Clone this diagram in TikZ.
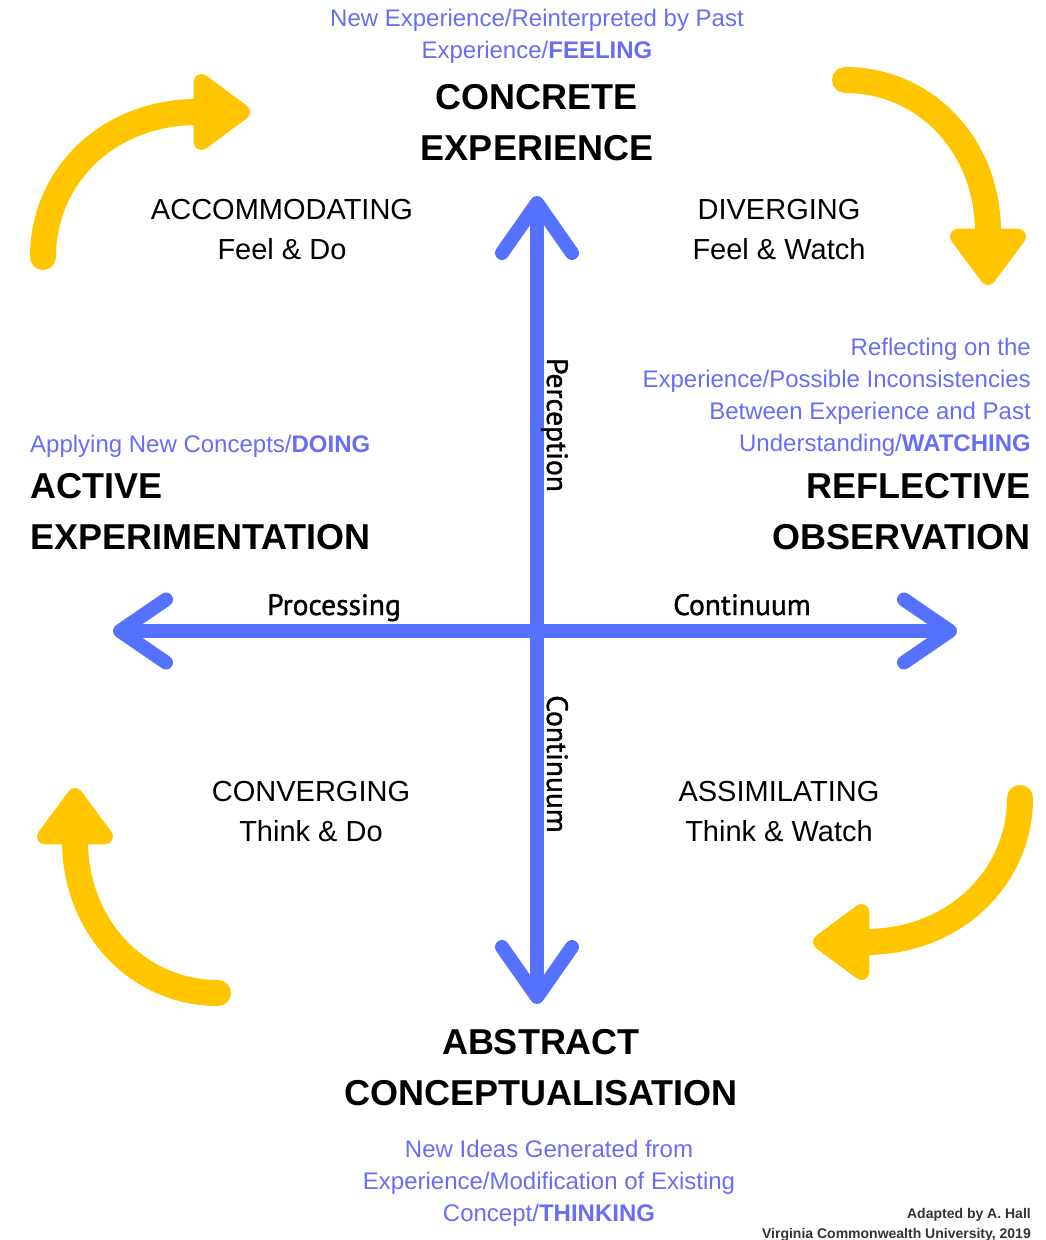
\documentclass[tikz,border=0pt]{standalone}
\usepackage{fontspec}
\setmainfont{Liberation Sans}
\newfontfamily\axisfont{PT Sans}[FakeBold=1.2]
\usetikzlibrary{arrows.meta}
\definecolor{axisblue}{RGB}{84,114,255}
\definecolor{noteblue}{RGB}{102,110,245}
\definecolor{cycleyellow}{RGB}{255,198,0}

\begin{document}
\begin{tikzpicture}[
  x=1pt, y=-1pt,
  every node/.style={inner sep=0pt},
  stagetext/.style={font=\fontsize{36}{51}\selectfont\bfseries},
  quadtext/.style={font=\fontsize{29}{40}\selectfont, align=center},
  notetext/.style={font=\fontsize{24}{32}\selectfont, text=noteblue},
  axistext/.style={font=\axisfont\fontsize{29.5}{30}\selectfont, anchor=base},
  axisarrow/.style={draw=axisblue, line width=14pt, line cap=round},
  vbarb/.style={{Straight Barb[length=50pt,width=70pt,round]}-{Straight Barb[length=50pt,width=70pt,round]}},
  hbarb/.style={{Straight Barb[length=46pt,width=63pt,round]}-{Straight Barb[length=46pt,width=63pt,round]}},
  cyclearrow/.style={draw=cycleyellow, line width=26pt, line cap=round,
    -{Triangle[length=62pt,width=87pt,round]}}
]
\useasboundingbox (0,0) rectangle (1046,1240);

% the two axes
\coordinate (ce) at (537,196);
\coordinate (ac) at (537,1004);
\coordinate (ae) at (113,631);
\coordinate (ro) at (957,631);
\draw[axisarrow, vbarb] (ce) -- (ac);
\draw[axisarrow, hbarb] (ae) -- (ro);

\node[axistext, rotate=-90] (perc) at (547,425) {Perception};
\node[axistext, rotate=-90] (contv) at (547,764) {Continuum};
\node[axistext] (proc) at (334,615) {Processing};
\node[axistext] (conth) at (742,615) {Continuum};

% the four stages
\node[stagetext, align=center] (concrete) at (537,123) {CONCRETE\\EXPERIENCE};
\node[notetext, align=center] (feeling) at (537,36)
  {New Experience/Reinterpreted by Past\\Experience/\textbf{FEELING}};

\node[stagetext, align=right, anchor=east] (reflective) at (1031,512) {REFLECTIVE\\OBSERVATION};
\node[notetext, align=right, anchor=east] (watching) at (1031,397)
  {Reflecting on the\\Experience/Possible Inconsistencies\\Between Experience and Past\\Understanding/\textbf{WATCHING}};

\node[stagetext, align=center] (abstract) at (541,1068) {ABSTRACT\\CONCEPTUALISATION};
\node[notetext, align=center] (thinking) at (549,1183)
  {New Ideas Generated from\\Experience/Modification of Existing\\Concept/\textbf{THINKING}};

\node[stagetext, align=left, anchor=west] (active) at (30,512) {ACTIVE\\EXPERIMENTATION};
\node[notetext, anchor=west] (doing) at (30,446) {Applying New Concepts/\textbf{DOING}};

% learning styles
\node[quadtext] (accom) at (282,230) {ACCOMMODATING\\Feel \& Do};
\node[quadtext] (diverg) at (779,230) {DIVERGING\\Feel \& Watch};
\node[quadtext] (conv) at (311,812) {CONVERGING\\Think \& Do};
\node[quadtext] (assim) at (779,812) {ASSIMILATING\\Think \& Watch};

% the cycle
\coordinate (tl0) at (43,257);
\coordinate (tl1) at (250,112);
\coordinate (tr0) at (845,80);
\coordinate (tr1) at (988,285);
\coordinate (br0) at (1020,798);
\coordinate (br1) at (813,942);
\coordinate (bl0) at (218,993);
\coordinate (bl1) at (75,788);
\draw[cyclearrow] (tl0) .. controls (43,177) and (107,112) .. (tl1);
\draw[cyclearrow] (tr0) .. controls (924,80) and (988,144) .. (tr1);
\draw[cyclearrow] (br0) .. controls (1020,877) and (955,942) .. (br1);
\draw[cyclearrow] (bl0) .. controls (139,993) and (75,928) .. (bl1);

\node[font=\fontsize{14}{20}\selectfont\bfseries, text=black!80, align=right, anchor=east] (credit) at (1031,1225)
  {Adapted by A. Hall\\Virginia Commonwealth University, 2019};
\end{tikzpicture}
\end{document}
